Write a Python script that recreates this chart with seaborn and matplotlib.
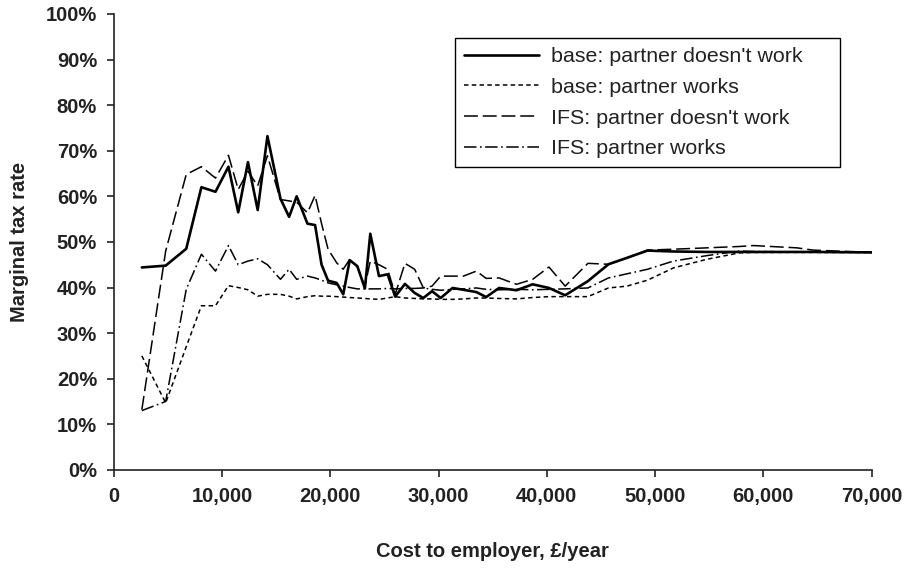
import matplotlib
matplotlib.use("Agg")
import matplotlib.pyplot as plt
import seaborn as sns
from matplotlib.ticker import PercentFormatter, FuncFormatter

# cost to employer (£/year) and marginal tax rates (%)
cost = [2600, 4800, 6700, 8100, 9400, 10600, 11500, 12400, 13300, 14200,
        15400, 16200, 16900, 17900, 18600, 19200, 19800, 20600, 21200, 21800,
        22500, 23200, 23700, 24500, 25300, 26000, 26900, 27800, 28600, 29400,
        30200, 31300, 32300, 33500, 34400, 35600, 37200, 38700, 40200, 41700,
        43800, 45700, 47400, 49300, 51700, 54800, 57800, 59100, 63100, 64600,
        70000]

base_no_work = [44.4, 44.8, 48.5, 62.0, 61.0, 66.5, 56.5, 67.5, 57.0, 73.2,
                59.5, 55.5, 60.0, 54.0, 53.7, 45.0, 41.5, 41.0, 38.5, 46.0,
                44.7, 39.8, 51.8, 42.5, 42.9, 38.0, 40.8, 38.8, 37.7, 39.2,
                37.7, 39.9, 39.5, 39.0, 37.9, 39.9, 39.4, 40.7, 39.9, 38.3,
                41.4, 45.1, 46.5, 48.1, 47.9, 47.8, 47.8, 47.8, 47.8, 47.8,
                47.7]

base_works = [25.0, 14.7, 27.0, 36.0, 36.0, 40.4, 40.0, 39.5, 38.1, 38.5,
              38.5, 38.1, 37.5, 38.0, 38.2, 38.1, 38.1, 38.0, 37.9, 37.8,
              37.7, 37.6, 37.5, 37.4, 37.7, 38.0, 37.7, 37.6, 37.5, 37.5,
              37.4, 37.4, 37.5, 37.7, 37.7, 37.6, 37.5, 37.8, 38.0, 38.0,
              38.0, 39.9, 40.3, 41.6, 44.3, 46.2, 47.6, 47.7, 47.7, 47.7,
              47.7]

ifs_no_work = [13.2, 48.0, 64.8, 66.5, 64.0, 69.0, 61.5, 65.5, 62.3, 68.9,
               59.3, 59.0, 58.7, 56.4, 60.2, 54.0, 48.4, 45.4, 44.0, 46.2,
               44.5, 40.3, 45.8, 45.0, 44.0, 38.5, 45.3, 44.0, 39.9, 40.3,
               42.5, 42.5, 42.5, 43.6, 42.0, 42.1, 40.7, 41.8, 44.5, 40.3,
               45.3, 45.1, 46.5, 48.2, 48.4, 48.7, 49.0, 49.2, 48.7, 48.2,
               47.7]

ifs_works = [13.0, 15.0, 39.6, 47.3, 43.6, 49.2, 45.0, 45.8, 46.3, 45.0,
             41.8, 44.0, 41.8, 42.5, 42.1, 41.6, 41.0, 40.6, 40.3, 40.0,
             39.7, 39.7, 39.7, 39.7, 39.8, 39.7, 39.8, 39.8, 39.9, 39.6,
             39.4, 39.6, 39.7, 39.9, 39.6, 39.5, 39.6, 39.5, 39.6, 39.7,
             39.9, 42.1, 43.0, 44.0, 45.8, 47.0, 48.0, 47.9, 47.8, 47.8,
             47.7]

sns.set_style("ticks")
plt.rcParams["font.family"] = ["Liberation Sans", "DejaVu Sans"]
plt.rcParams["lines.scale_dashes"] = False

fig = plt.figure(figsize=(9.06, 5.73), dpi=100)
ax = fig.add_axes([0.1255, 0.18, 0.8365, 0.7956])

sns.lineplot(x=cost, y=base_no_work, color="black", lw=1.9,
             label="base: partner doesn't work", ax=ax)
sns.lineplot(x=cost, y=base_works, color="black", lw=1.1,
             linestyle=(0, (3.2, 2.4)), label="base: partner works", ax=ax)
sns.lineplot(x=cost, y=ifs_no_work, color="black", lw=1.1,
             linestyle=(0, (10, 3.5)), label="IFS: partner doesn't work", ax=ax)
sns.lineplot(x=cost, y=ifs_works, color="black", lw=1.1,
             linestyle=(0, (9, 2.5, 1.2, 2.5)), label="IFS: partner works", ax=ax)

ax.set_xlim(0, 70000)
ax.set_ylim(0, 100)
ax.set_xticks(range(0, 70001, 10000))
ax.set_yticks(range(0, 101, 10))
ax.xaxis.set_major_formatter(FuncFormatter(lambda v, p: f"{v:,.0f}"))
ax.yaxis.set_major_formatter(PercentFormatter(xmax=100, decimals=0))
ax.tick_params(axis="both", length=5, width=1.2, color="#222222",
               labelsize=14.5, labelcolor="#222222", pad=7)
for lab in ax.get_xticklabels() + ax.get_yticklabels():
    lab.set_fontweight("bold")

sns.despine(ax=ax)
for side in ["left", "bottom"]:
    ax.spines[side].set_linewidth(1.2)
    ax.spines[side].set_color("#222222")

ax.set_xlabel("Cost to employer, £/year", fontsize=14.5, fontweight="bold",
              color="#222222", labelpad=26)
ax.set_ylabel("Marginal tax rate", fontsize=14.5, fontweight="bold",
              color="#222222", labelpad=12)

leg = ax.legend(loc="upper left", bbox_to_anchor=(0.450, 0.676, 0.508, 0.271),
                mode="expand", borderaxespad=0, fontsize=15.4, frameon=True,
                fancybox=False, framealpha=1, edgecolor="black",
                handlelength=3.5, handletextpad=0.6, labelspacing=0.55,
                borderpad=0.42)
leg.get_frame().set_linewidth(1.0)
for t in leg.get_texts():
    t.set_color("#222222")

fig.savefig("out.png", dpi=100)
